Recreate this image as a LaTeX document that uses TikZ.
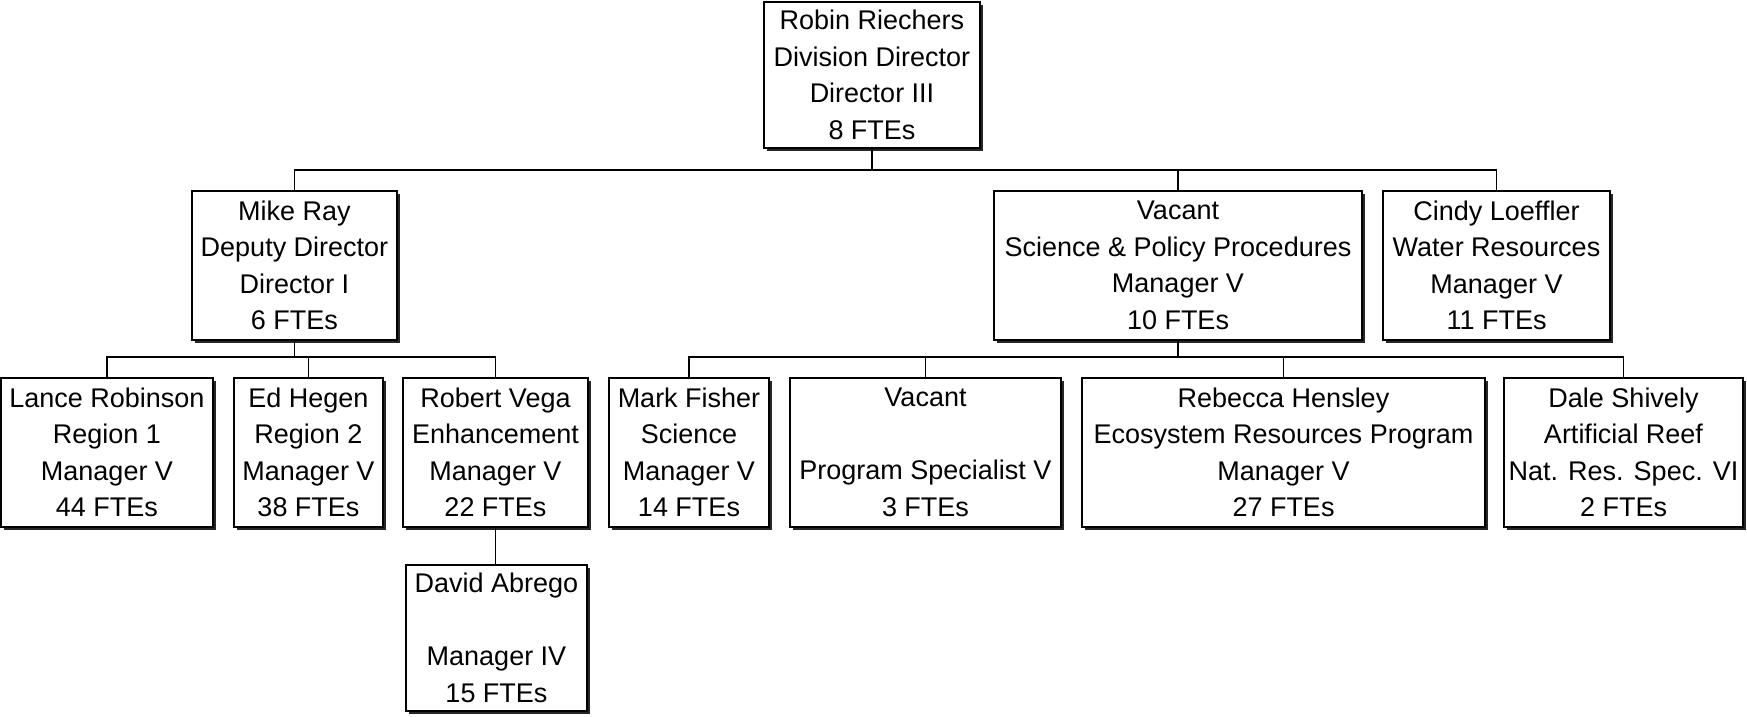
\documentclass[tikz,border=0pt]{standalone}
\usepackage{fontspec}
\setmainfont{Liberation Sans}
\usetikzlibrary{shadows}
\begin{document}
\begin{tikzpicture}[x=1pt,y=-1pt,
  post/.style={draw, fill=white, line width=1.3pt, inner sep=0pt, align=center,
    font=\fontsize{27}{36.5}\selectfont,
    drop shadow={shadow xshift=2.5pt, shadow yshift=-2.5pt, fill=black!85, opacity=1}},
  link/.style={line width=1.4pt},
  bus/.style={line width=1.8pt}]
\useasboundingbox (0,0) rectangle (1747,716);

% division head
\node[post, minimum width=216pt, minimum height=146pt] (top) at (872,75)
  {Robin Riechers\\Division Director\\Director III\\8 FTEs};

% second level
\node[post, minimum width=205pt, minimum height=149pt] (mike) at (294.5,265.5)
  {Mike Ray\\Deputy Director\\Director I\\6 FTEs};
\node[post, minimum width=368pt, minimum height=149pt] (spp) at (1178,265.5)
  {Vacant\\Science \& Policy Procedures\\Manager V\\10 FTEs};
\node[post, minimum width=227pt, minimum height=149pt] (cindy) at (1496.5,265.5)
  {Cindy Loeffler\\Water Resources\\Manager V\\11 FTEs};

% third level
\node[post, minimum width=212pt, minimum height=149pt] (lance) at (107,452.5)
  {Lance Robinson\\Region 1\\Manager V\\44 FTEs};
\node[post, minimum width=149pt, minimum height=149pt] (ed) at (308.5,452.5)
  {Ed Hegen\\Region 2\\Manager V\\38 FTEs};
\node[post, minimum width=185pt, minimum height=149pt] (robert) at (495.5,452.5)
  {Robert Vega\\Enhancement\\Manager V\\22 FTEs};
\node[post, minimum width=160pt, minimum height=149pt] (mark) at (689,452.5)
  {Mark Fisher\\Science\\Manager V\\14 FTEs};
\node[post, minimum width=271pt, minimum height=149pt] (vacant) at (925.5,452.5)
  {Vacant\\\strut\\Program Specialist V\\3 FTEs};
\node[post, minimum width=403pt, minimum height=149pt] (rebecca) at (1283.5,452.5)
  {Rebecca Hensley\\Ecosystem Resources Program\\Manager V\\27 FTEs};
\node[post, minimum width=239pt, minimum height=149pt] (dale) at (1623.5,452.5)
  {Dale Shively\\Artificial Reef\\Nat. Res. Spec. VI\\2 FTEs};

% fourth level
\node[post, minimum width=181pt, minimum height=146pt] (david) at (496.5,638)
  {David Abrego\\\strut\\Manager IV\\15 FTEs};

% bus levels
\coordinate (busA) at (1000,170);
\coordinate (busL) at (300,357);
\coordinate (busR) at (1100,357);

% connectors
\draw[link] (top.south) -- (top.south |- busA);
\draw[bus] (mike.north) |- (busA) -| (cindy.north);
\draw[link] (spp.north) -- (spp.north |- busA);

\draw[link] (mike.south) -- (mike.south |- busL);
\draw[link] (lance.north) |- (busL) -| (robert.north);
\draw[link] (ed.north) -- (ed.north |- busL);

\draw[link] (spp.south) -- (spp.south |- busR);
\draw[link] (mark.north) |- (busR) -| (dale.north);
\draw[link] (vacant.north) -- (vacant.north |- busR);
\draw[link] (rebecca.north) -- (rebecca.north |- busR);

\draw[link] (robert.south) -- (robert.south |- david.north);
\end{tikzpicture}
\end{document}
